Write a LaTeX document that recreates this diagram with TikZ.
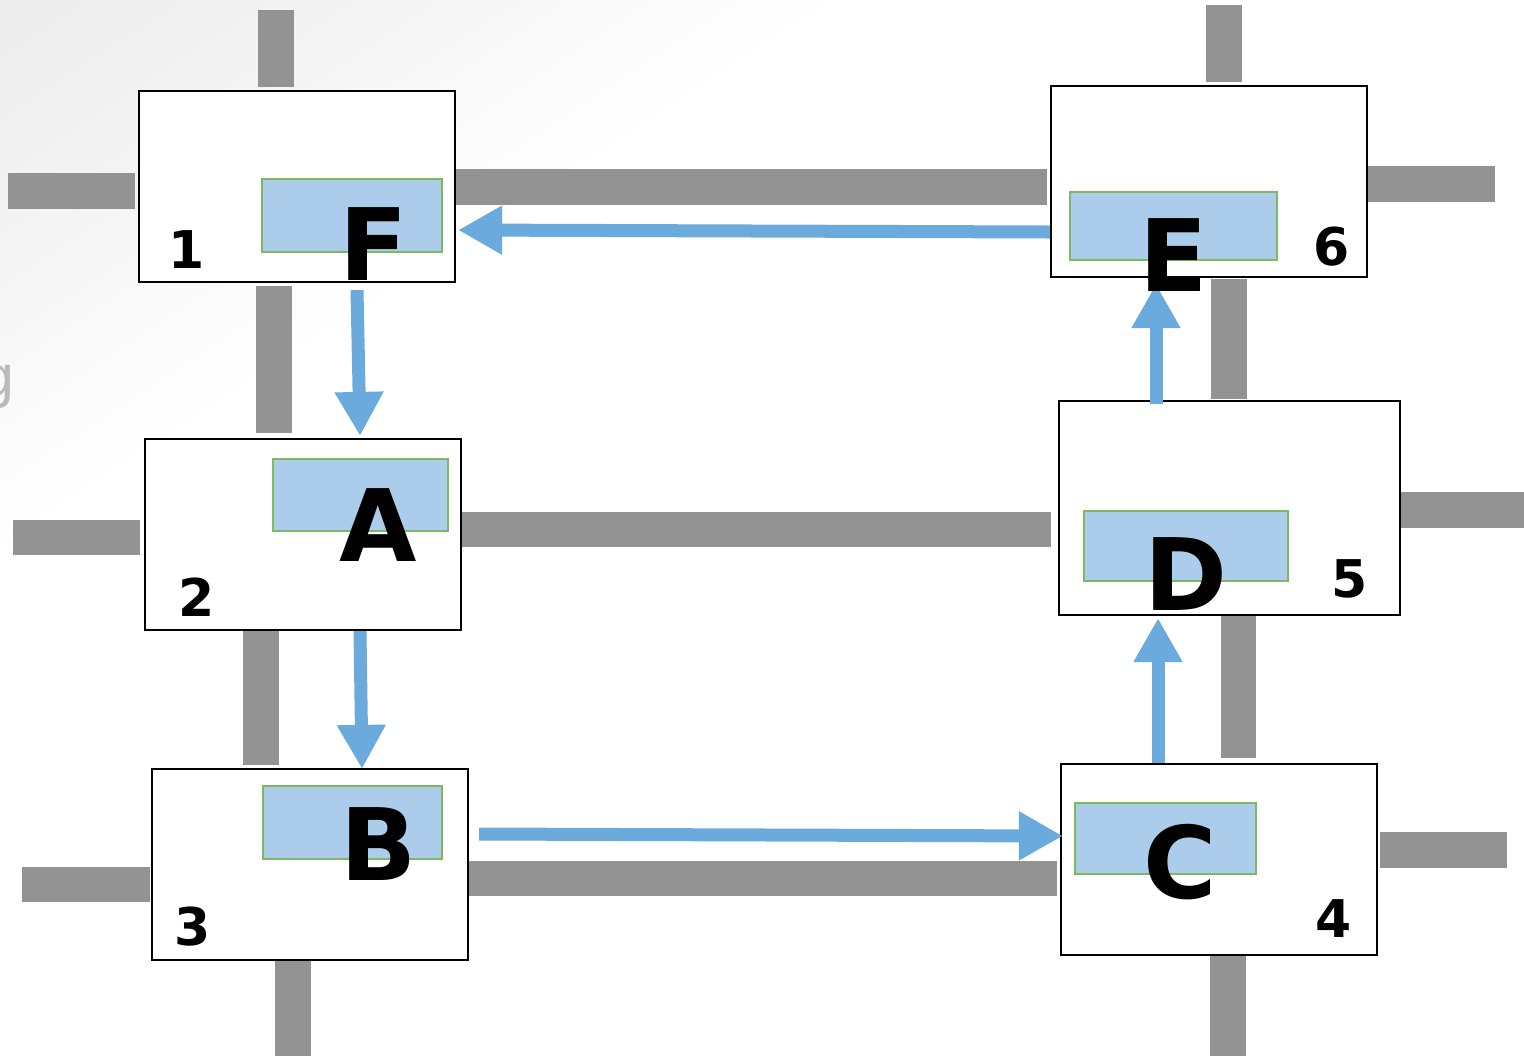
\documentclass[tikz,border=0pt]{standalone}
\usepackage{fontspec}
\setmainfont{DejaVu Sans}
\newfontfamily\gfont{Liberation Sans}
\usetikzlibrary{arrows.meta,calc}
\definecolor{road}{HTML}{939393}
\definecolor{flowblue}{HTML}{6AAADC}
\definecolor{slotfill}{HTML}{ABCDEB}
\definecolor{slotedge}{HTML}{80B862}
% soft grey wash fading out towards the lower right
\pgfdeclarehorizontalshading{wash}{100bp}{color(0bp)=(black!12); color(6bp)=(black!11); color(14bp)=(black!8); color(22bp)=(black!5); color(29bp)=(black!2); color(34bp)=(white); color(100bp)=(white)}
\begin{document}
\begin{tikzpicture}[x=0.5pt,y=-0.5pt,
  cell/.style={draw=black,line width=1.1pt,fill=white,inner sep=0pt,minimum width=158pt,minimum height=95.5pt},
  slot/.style={draw=slotedge,line width=0.9pt,fill=slotfill,inner sep=0pt},
  bar/.style={fill=road},
  big/.style={inner sep=0pt,font=\fontsize{50}{60}\selectfont\bfseries},
  num/.style={inner sep=0pt,font=\fontsize{26}{30}\selectfont\bfseries},
  flow/.style={draw=flowblue,line width=6.5pt,-{Triangle[length=22pt,width=23pt]}}]
\useasboundingbox (0,0) rectangle (1524,1056);
\begin{scope}
\clip (0,0) rectangle (1524,1056);
\shade[shading=wash, shading angle=-56.8] (0,0) rectangle (1524,1056);
\node[anchor=base east,inner sep=0pt,text=black!27,font=\gfont\fontsize{29.5}{34}\selectfont] (gl) at (15,396) {g};
\end{scope}

% roads
\fill[bar] (258,10) rectangle (294,87);
\fill[bar] (8,173) rectangle (135,209);
\fill[bar] (456,169) rectangle (1047,205);
\fill[bar] (256,286) rectangle (292,433);
\fill[bar] (13,520) rectangle (140,555);
\fill[bar] (461,512) rectangle (1051,547);
\fill[bar] (243,631) rectangle (279,765);
\fill[bar] (22,867) rectangle (150,902);
\fill[bar] (463,861) rectangle (1057,896);
\fill[bar] (275,960) rectangle (311,1056);
\fill[bar] (1206,5) rectangle (1242,82);
\fill[bar] (1368,166) rectangle (1495,202);
\fill[bar] (1211,279) rectangle (1247,399);
\fill[bar] (1401,492) rectangle (1524,528);
\fill[bar] (1221,616) rectangle (1256,758);
\fill[bar] (1380,832) rectangle (1507,868);
\fill[bar] (1210,956) rectangle (1246,1056);

% blocks
\node[cell] (b1) at (297,186.5) {};
\node[cell] (b2) at (303,534.5) {};
\node[cell] (b3) at (310,864.5) {};
\node[cell] (b4) at (1219,859.5) {};
\node[cell,minimum width=170.5pt,minimum height=107pt] (b5) at (1229.5,508) {};
\node[cell] (b6) at (1209,181.5) {};

% inner slots
\node[slot,minimum width=90pt,minimum height=36.5pt] (r1) at (352,215.5) {};
\node[slot,minimum width=87.5pt,minimum height=36pt] (r2) at (360.5,495) {};
\node[slot,minimum width=89.5pt,minimum height=36.5pt] (r3) at (352.5,822.5) {};
\node[slot,minimum width=90.5pt,minimum height=35.5pt] (r4) at (1165.5,838.5) {};
\node[slot,minimum width=102pt,minimum height=35pt] (r5) at (1186,546) {};
\node[slot,minimum width=103.5pt,minimum height=34pt] (r6) at (1173.5,226) {};

% block numbers
\node[num] (n1) at (187,250) {1};
\node[num] (n2) at (197,597) {2};
\node[num] (n3) at (193,927) {3};
\node[num] (n4) at (1334,919) {4};
\node[num] (n5) at (1350,579) {5};
\node[num] (n6) at (1332,247) {6};

% route
\draw[flow] ($(b6.west)+(0,50.5)$) -- ($(b1.east)+(2,43.5)$);
\draw[flow] ($(b1.south)+(60,7)$) -- ($(b2.north)+(57,-2)$);
\draw[flow] ($(b2.south)+(57,0)$) -- ($(b3.north)+(52,1)$);
\draw[flow] ($(b3.east)+(10,-30.5)$) -- ($(b4.west)+(3,-23.5)$);
\draw[flow] ($(b4.north)+(-61,0)$) -- ($(b5.south)+(-71.5,2)$);
\draw[flow] ($(b5.north)+(-73.5,4)$) -- ($(b6.south)+(-53,6)$);

% stop letters
\node[big] (lF) at (374,244) {F};
\node[big] (lA) at (378,525) {A};
\node[big] (lB) at (379,844) {B};
\node[big] (lC) at (1180,862) {C};
\node[big] (lD) at (1186,574) {D};
\node[big] (lE) at (1174,255) {E};
\end{tikzpicture}
\end{document}
